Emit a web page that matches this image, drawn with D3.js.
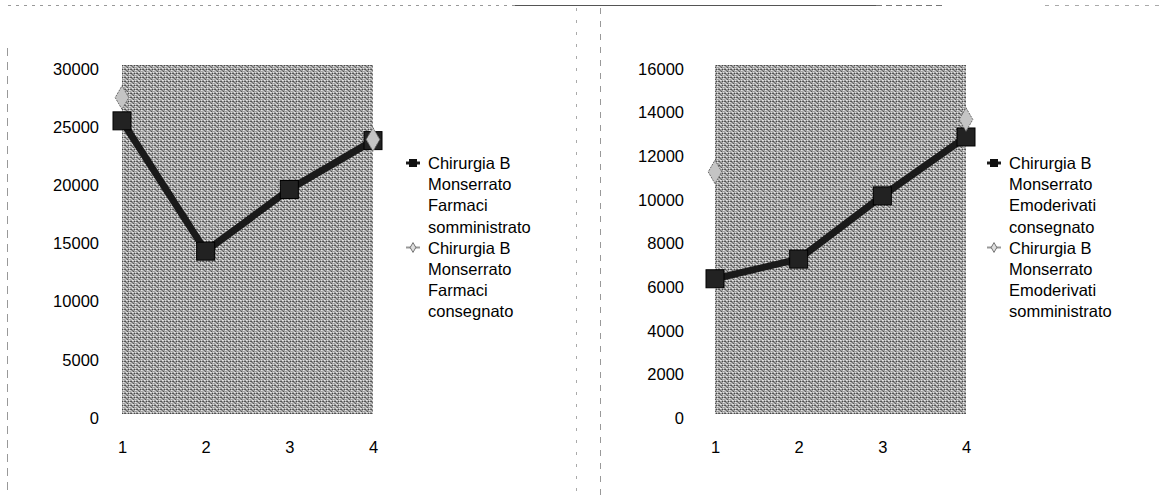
<!DOCTYPE html>
<html>
<head>
<meta charset="utf-8">
<script src="https://cdn.jsdelivr.net/npm/d3@7"></script>
<style>
  html, body { margin: 0; padding: 0; background: #fff; }
  svg { display: block; font-family: "Liberation Sans", Arial, sans-serif; }
  .tick text { fill: #000; }
  .legend text { font-size: 16.5px; fill: #000; }
</style>
</head>
<body>
<svg id="chart" width="1161" height="496"></svg>
<script>
const categories = [1, 2, 3, 4];

// left chart: Farmaci
const farmaciSomministrato = [25200, 14000, 19300, 23500];
const farmaciConsegnato = [27200, 15800, 20600, 23600];
const farmaciTicks = [0, 5000, 10000, 15000, 20000, 25000, 30000];
const farmaciLegend = [
  ['Chirurgia B', 'Monserrato', 'Farmaci', 'somministrato'],
  ['Chirurgia B', 'Monserrato', 'Farmaci', 'consegnato']
];

// right chart: Emoderivati
const emoderivatiConsegnato = [6200, 7100, 10000, 12700];
const emoderivatiSomministrato = [11100, 9300, 11600, 13500];
const emoderivatiTicks = [0, 2000, 4000, 6000, 8000, 10000, 12000, 14000, 16000];
const emoderivatiLegend = [
  ['Chirurgia B', 'Monserrato', 'Emoderivati', 'consegnato'],
  ['Chirurgia B', 'Monserrato', 'Emoderivati', 'somministrato']
];

const svg = d3.select('#chart');

// halftone-ish fill for the plot area (scanned look)
const defs = svg.append('defs');
const pat = defs.append('pattern')
  .attr('id', 'halftone')
  .attr('patternUnits', 'userSpaceOnUse')
  .attr('width', 6)
  .attr('height', 4);
pat.append('rect').attr('width', 6).attr('height', 4).attr('fill', '#a0a0a0');
[[0, 0, '#e6e6e6'], [1, 0, '#d4d4d4'], [3, 0, '#dedede'],
 [2, 1, '#474747'], [4, 1, '#5e5e5e'], [5, 1, '#505050'],
 [0, 2, '#737373'], [3, 2, '#e4e4e4'], [4, 2, '#cecece'],
 [1, 3, '#555'], [5, 3, '#c4c4c4']].forEach(([x, y, c]) => {
  pat.append('rect').attr('x', x).attr('y', y).attr('width', 1).attr('height', 1).attr('fill', c);
});

// scanned page frame remnants
const frame = svg.append('g').attr('fill', 'none');
frame.append('line').attr('x1', 8).attr('x2', 515).attr('y1', 5.5).attr('y2', 5.5)
  .attr('stroke', '#999').attr('stroke-dasharray', '3,5');
frame.append('line').attr('x1', 515).attr('x2', 876).attr('y1', 5.5).attr('y2', 5.5)
  .attr('stroke', '#555');
frame.append('line').attr('x1', 876).attr('x2', 945).attr('y1', 5.5).attr('y2', 5.5)
  .attr('stroke', '#777').attr('stroke-dasharray', '6,4');
frame.append('line').attr('x1', 1045).attr('x2', 1161).attr('y1', 5.5).attr('y2', 5.5)
  .attr('stroke', '#aaa').attr('stroke-dasharray', '4,6');
frame.append('line').attr('x1', 7.5).attr('x2', 7.5).attr('y1', 48).attr('y2', 496)
  .attr('stroke', '#999').attr('stroke-dasharray', '8,6');
frame.append('line').attr('x1', 576.5).attr('x2', 576.5).attr('y1', 8).attr('y2', 496)
  .attr('stroke', '#aaa').attr('stroke-dasharray', '3,9');
frame.append('line').attr('x1', 600.5).attr('x2', 600.5).attr('y1', 8).attr('y2', 496)
  .attr('stroke', '#999').attr('stroke-dasharray', '6,7');

function drawChart(opts) {
  const g = svg.append('g');
  const x = d3.scalePoint().domain(categories).range([opts.left, opts.right]);
  const y = d3.scaleLinear().domain([0, d3.max(opts.ticks)]).range([414, 65]);

  g.append('rect')
    .attr('x', opts.left)
    .attr('y', y.range()[1])
    .attr('width', opts.right - opts.left)
    .attr('height', y.range()[0] - y.range()[1])
    .attr('fill', 'url(#halftone)')
    .attr('shape-rendering', 'crispEdges');

  const yAxis = g.append('g')
    .attr('transform', `translate(${opts.left},0)`)
    .call(d3.axisLeft(y).tickValues(opts.ticks).tickFormat(d3.format('d'))
      .tickSize(0).tickPadding(opts.pad));
  yAxis.select('.domain').remove();
  yAxis.attr('font-family', null).attr('font-size', 16.5);
  yAxis.selectAll('text').attr('dy', '0.56em');

  const xAxis = g.append('g')
    .attr('transform', 'translate(0,414)')
    .call(d3.axisBottom(x).tickSize(0).tickPadding(27));
  xAxis.select('.domain').remove();
  xAxis.attr('font-family', null).attr('font-size', 16.5);

  const line = d3.line().x((d, i) => x(categories[i])).y(d => y(d));

  // light series (nearly lost in the halftone)
  g.append('path').datum(opts.light)
    .attr('d', line).attr('fill', 'none')
    .attr('stroke', '#b8b8b8').attr('stroke-width', 3).attr('opacity', 0.2);

  // dark series
  g.append('path').datum(opts.dark)
    .attr('d', line).attr('fill', 'none')
    .attr('stroke', '#1a1a1a').attr('stroke-width', 7);
  g.selectAll('.sq').data(opts.dark).join('rect')
    .attr('class', 'sq')
    .attr('x', (d, i) => x(categories[i]) - 9)
    .attr('y', d => y(d) - 9)
    .attr('width', 18).attr('height', 18)
    .attr('fill', '#222').attr('stroke', '#000').attr('stroke-width', 1);

  const diamond = d3.symbol().type(d3.symbolDiamond).size(160);
  const shown = opts.light
    .map((v, i) => ({ cat: categories[i], v }))
    .filter((d, i) => opts.showDiamond[i]);
  g.selectAll('.dm').data(shown).join('path')
    .attr('class', 'dm')
    .attr('transform', d => `translate(${x(d.cat)},${y(d.v)})`)
    .attr('d', diamond)
    .attr('fill', '#c4c4c4').attr('stroke', '#6a6a6a').attr('stroke-width', 1)
    .attr('stroke-dasharray', '2,1');

  // legend
  const lg = g.append('g').attr('class', 'legend');
  opts.legend.forEach((lines, k) => {
    const top = 169 + k * 84.5;
    const item = lg.append('g');
    if (k === 0) {
      item.append('line')
        .attr('x1', opts.legendX - 22).attr('x2', opts.legendX - 8)
        .attr('y1', top - 6).attr('y2', top - 6)
        .attr('stroke', '#1c1c1c').attr('stroke-width', 3);
      item.append('rect')
        .attr('x', opts.legendX - 19).attr('y', top - 10)
        .attr('width', 8).attr('height', 8).attr('fill', '#111');
    } else {
      item.append('line')
        .attr('x1', opts.legendX - 22).attr('x2', opts.legendX - 8)
        .attr('y1', top - 6).attr('y2', top - 6)
        .attr('stroke', '#999').attr('stroke-width', 2);
      item.append('path')
        .attr('transform', `translate(${opts.legendX - 15},${top - 6})`)
        .attr('d', d3.symbol().type(d3.symbolDiamond).size(28))
        .attr('fill', '#ddd').attr('stroke', '#555').attr('stroke-width', 0.8);
    }
    lines.forEach((t, j) => {
      item.append('text')
        .attr('x', opts.legendX)
        .attr('y', top + j * 21.2)
        .text(t);
    });
  });
}

drawChart({
  left: 122, right: 373, pad: 23,
  ticks: farmaciTicks,
  dark: farmaciSomministrato,
  light: farmaciConsegnato,
  showDiamond: [true, false, false, true],
  legend: farmaciLegend,
  legendX: 428
});

drawChart({
  left: 715, right: 966, pad: 31,
  ticks: emoderivatiTicks,
  dark: emoderivatiConsegnato,
  light: emoderivatiSomministrato,
  showDiamond: [true, false, false, true],
  legend: emoderivatiLegend,
  legendX: 1009
});
</script>
</body>
</html>
